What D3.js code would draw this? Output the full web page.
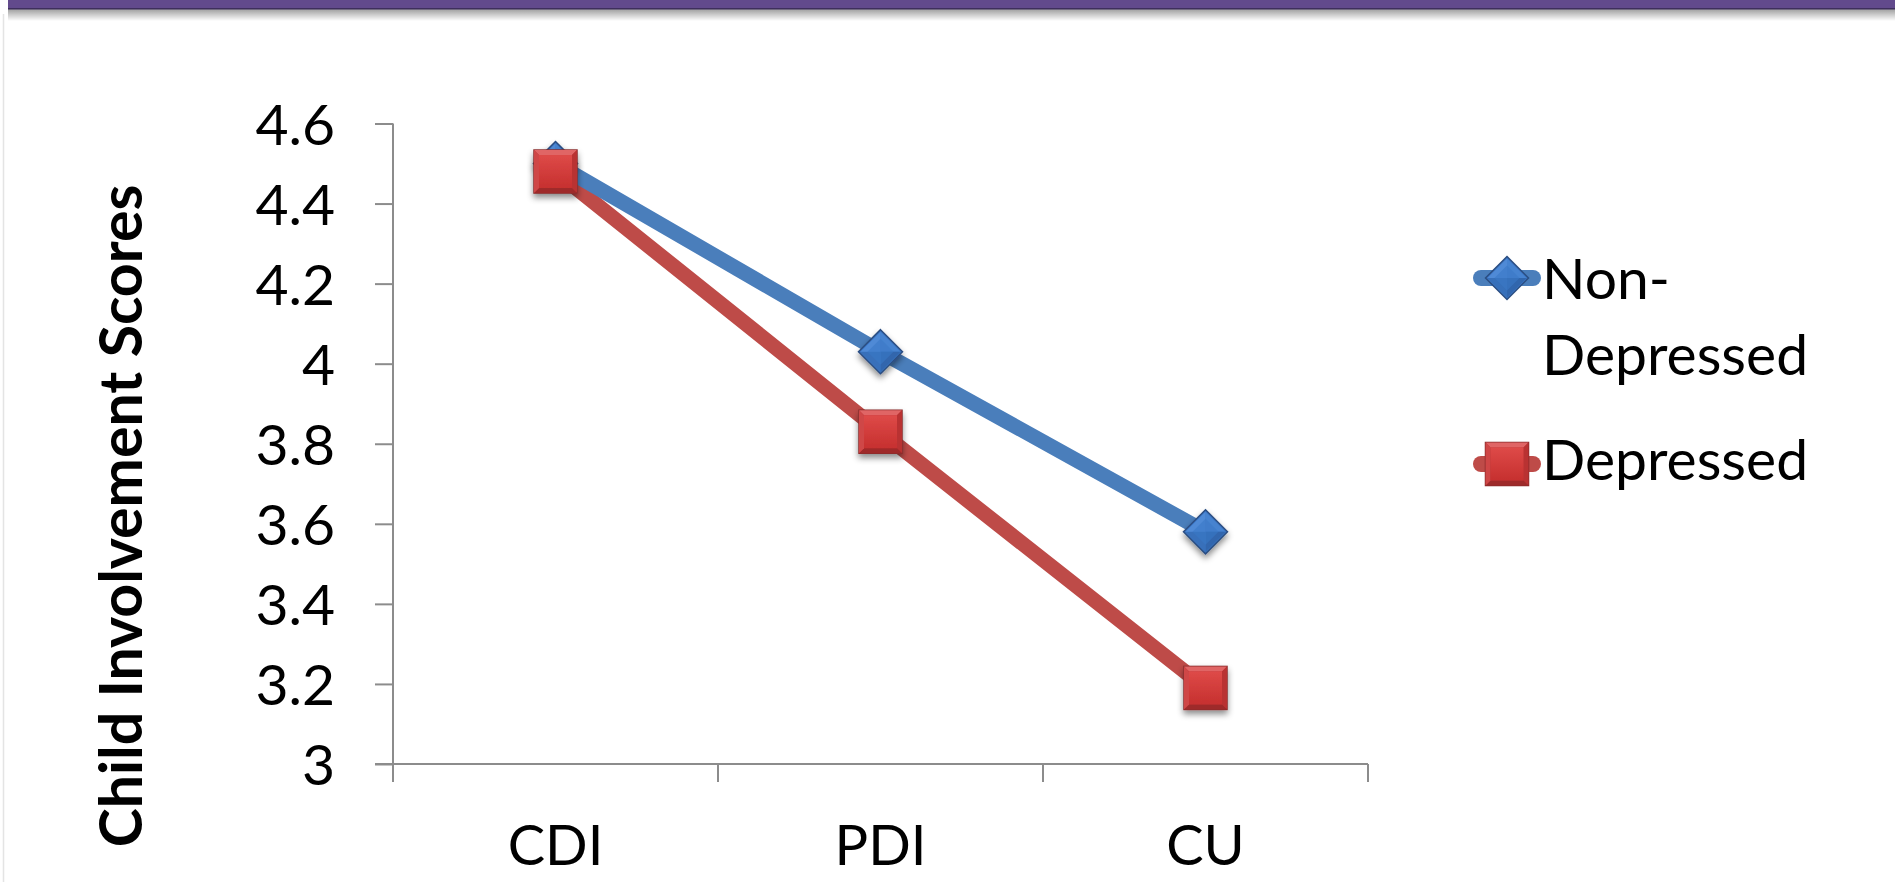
<!DOCTYPE html>
<html>
<head>
<meta charset="utf-8">
<script src="https://cdn.jsdelivr.net/npm/d3@7/dist/d3.min.js"></script>
<style>
  html, body { margin: 0; padding: 0; background: #ffffff; }
  svg { display: block; }
  text { font-family: Lato, "Open Sans", sans-serif; fill: #000; }
</style>
</head>
<body>
<svg id="chart" width="1899" height="882"></svg>
<script>
// ---- data ----
const categories = ["CDI", "PDI", "CU"];
const nonDepressed = [4.50, 4.03, 3.58];
const depressed = [4.48, 3.83, 3.19];
const yTickValues = [3, 3.2, 3.4, 3.6, 3.8, 4, 4.2, 4.4, 4.6];
const yTickLabels = ["3", "3.2", "3.4", "3.6", "3.8", "4", "4.2", "4.4", "4.6"];
const seriesNames = ["Non-Depressed", "Depressed"];
const yAxisTitle = "Child Involvement Scores";

// ---- layout ----
const W = 1899, H = 882;
const plot = { left: 393, right: 1368, top: 123.5, bottom: 764 };
const colors = { blue: "#4a7ebb", red: "#be4b48", axis: "#8c8c8c" };

const svg = d3.select("#chart");
const defs = svg.append("defs");

// soft shadow under the markers
const shadow = defs.append("filter").attr("id", "mshadow")
  .attr("x", "-50%").attr("y", "-50%").attr("width", "200%").attr("height", "200%");
shadow.append("feDropShadow").attr("dx", 0).attr("dy", 4).attr("stdDeviation", 3)
  .attr("flood-color", "#000").attr("flood-opacity", 0.45);

// shadow strip under the header bar
const hdrGrad = defs.append("linearGradient").attr("id", "hdrShadow")
  .attr("x1", 0).attr("y1", 0).attr("x2", 0).attr("y2", 1);
hdrGrad.append("stop").attr("offset", 0).attr("stop-color", "#000").attr("stop-opacity", 0.38);
hdrGrad.append("stop").attr("offset", 1).attr("stop-color", "#000").attr("stop-opacity", 0);

const redFace = defs.append("linearGradient").attr("id", "redFace")
  .attr("x1", 0).attr("y1", 0).attr("x2", 0).attr("y2", 1);
redFace.append("stop").attr("offset", 0).attr("stop-color", "#de4a48");
redFace.append("stop").attr("offset", 1).attr("stop-color", "#c6302f");

// ---- header bar ----
svg.append("rect").attr("x", 8).attr("y", 9).attr("width", W - 12).attr("height", 12)
  .attr("fill", "url(#hdrShadow)");
svg.append("rect").attr("x", 8).attr("y", 0).attr("width", W - 12).attr("height", 9)
  .attr("fill", "#624a8c");
svg.append("rect").attr("x", 8).attr("y", 8).attr("width", W - 12).attr("height", 1.5)
  .attr("fill", "#3e2f5c");
svg.append("line").attr("x1", 3.5).attr("x2", 3.5).attr("y1", 14).attr("y2", H)
  .attr("stroke", "#e4e4e4").attr("stroke-width", 1.5);

// ---- scales ----
const x = d3.scaleBand().domain(categories).range([plot.left, plot.right]).padding(0);
const y = d3.scaleLinear().domain([3, 4.6]).range([plot.bottom, plot.top]);
const cx = c => x(c) + x.bandwidth() / 2;

// ---- y axis ----
const yAxis = d3.axisLeft(y).tickValues(yTickValues)
  .tickFormat((d, i) => yTickLabels[i]).tickSize(18).tickPadding(40);
const gy = svg.append("g").attr("transform", `translate(${plot.left},0)`).call(yAxis);
gy.select(".domain").attr("stroke", colors.axis).attr("stroke-width", 2)
  .attr("d", `M0,${plot.top}V${plot.bottom + 18}`);
gy.selectAll(".tick line").attr("stroke", colors.axis).attr("stroke-width", 2);
gy.selectAll(".tick text").style("font-family", "Lato, sans-serif")
  .style("font-size", "57px").attr("fill", "#000").attr("dy", "0.36em");

// ---- x axis ----
const gx = svg.append("g").attr("transform", `translate(0,${plot.bottom})`);
gx.append("line").attr("x1", plot.left - 18).attr("x2", plot.right)
  .attr("stroke", colors.axis).attr("stroke-width", 2);
const edges = categories.map(c => x(c)).concat([plot.right]);
gx.selectAll("line.tk").data(edges).join("line").attr("class", "tk")
  .attr("x1", d => d).attr("x2", d => d).attr("y1", 0).attr("y2", 18)
  .attr("stroke", colors.axis).attr("stroke-width", 2);
gx.selectAll("text").data(categories).join("text")
  .attr("x", d => cx(d)).attr("y", 101).attr("text-anchor", "middle")
  .style("font-size", "56px").text(d => d);

// ---- y axis title ----
svg.append("text")
  .attr("transform", `translate(142,516) rotate(-90)`)
  .attr("text-anchor", "middle")
  .style("font-size", "59px").style("font-weight", "bold")
  .text(yAxisTitle);

// ---- markers ----
function diamond(g, s) {
  const h = s / 2;
  g.append("path").attr("d", `M0,${-h}L${h},0L0,${h}L${-h},0Z`)
    .attr("fill", "#3a74c2").attr("stroke", "#2b4e82").attr("stroke-width", 1.5);
  // four facets meeting at the centre
  const facets = [
    { d: `M0,${-h + 2}L${h - 2},0L0,0Z`, f: "#4683d0" },
    { d: `M${h - 2},0L0,${h - 2}L0,0Z`, f: "#3166ad" },
    { d: `M0,${h - 2}L${-h + 2},0L0,0Z`, f: "#3770ba" },
    { d: `M${-h + 2},0L0,${-h + 2}L0,0Z`, f: "#4f8ad6" }
  ];
  facets.forEach(p => g.append("path").attr("d", p.d).attr("fill", p.f));
  g.append("path").attr("d", `M0,${-h + 9}L${h - 9},0L0,${h - 9}L${-h + 9},0Z`)
    .attr("fill", "#3b78c6").attr("opacity", 0.6);
}
function square(g, s) {
  const h = s / 2, b = 5;
  g.append("rect").attr("x", -h).attr("y", -h).attr("width", s).attr("height", s)
    .attr("fill", "#b93333").attr("stroke", "#8a2b2b").attr("stroke-width", 1.5);
  const bevel = [
    { d: `M${-h},${-h}L${h},${-h}L${h - b},${-h + b}L${-h + b},${-h + b}Z`, f: "#e06565" },
    { d: `M${h},${-h}L${h},${h}L${h - b},${h - b}L${h - b},${-h + b}Z`, f: "#b93232" },
    { d: `M${h},${h}L${-h},${h}L${-h + b},${h - b}L${h - b},${h - b}Z`, f: "#9e2a2a" },
    { d: `M${-h},${h}L${-h},${-h}L${-h + b},${-h + b}L${-h + b},${h - b}Z`, f: "#cf4646" }
  ];
  bevel.forEach(p => g.append("path").attr("d", p.d).attr("fill", p.f));
  g.append("rect").attr("x", -h + b).attr("y", -h + b)
    .attr("width", s - 2 * b).attr("height", s - 2 * b).attr("fill", "url(#redFace)");
}

const series = [
  { name: seriesNames[0], values: nonDepressed, color: colors.blue, marker: diamond, size: 44 },
  { name: seriesNames[1], values: depressed, color: colors.red, marker: square, size: 43 }
];

const line = d3.line().x(d => cx(d.c)).y(d => y(d.v));

// draw the later series first so the blue line sits on top of the red one
[series[1], series[0]].forEach(s => {
  const pts = categories.map((c, i) => ({ c, v: s.values[i] }));
  svg.append("path").datum(pts).attr("d", line)
    .attr("fill", "none").attr("stroke", s.color).attr("stroke-width", 15)
    .attr("stroke-linejoin", "round");
});
[series[0], series[1]].forEach(s => {
  const pts = categories.map((c, i) => ({ c, v: s.values[i] }));
  pts.forEach(p => {
    const g = svg.append("g").attr("transform", `translate(${cx(p.c)},${y(p.v)})`)
      .attr("filter", "url(#mshadow)");
    s.marker(g, s.size);
  });
});

// ---- legend ----
const legend = svg.append("g");
const legendItems = [
  { s: series[0], cy: 278, lines: ["Non-", "Depressed"], baselines: [299, 375] },
  { s: series[1], cy: 464, lines: ["Depressed"], baselines: [480] }
];
legendItems.forEach(it => {
  legend.append("line").attr("x1", 1481).attr("x2", 1533)
    .attr("y1", it.cy).attr("y2", it.cy)
    .attr("stroke", it.s.color).attr("stroke-width", 16).attr("stroke-linecap", "round");
  const g = legend.append("g").attr("transform", `translate(1507,${it.cy})`);
  it.s.marker(g, 43);
  it.lines.forEach((t, i) => {
    legend.append("text").attr("x", 1542).attr("y", it.baselines[i])
      .style("font-size", "57px").text(t);
  });
});
</script>
</body>
</html>
